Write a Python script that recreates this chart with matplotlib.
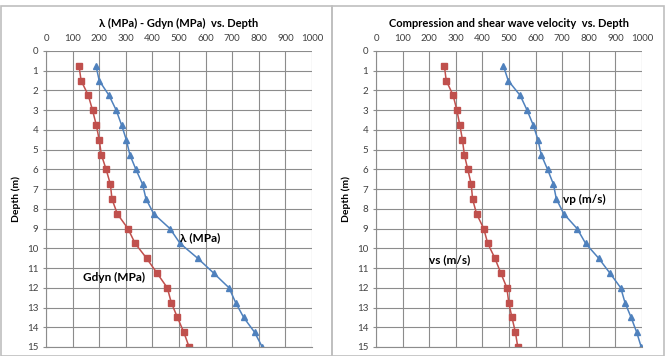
import numpy as np
import matplotlib
matplotlib.use("Agg")
import matplotlib.pyplot as plt
from matplotlib.patches import Rectangle

plt.rcParams["font.family"] = ["Lato", "DejaVu Sans"]

RED = "#C0504D"
BLUE = "#4F81BD"
GRID = "#8C8C8C"

# depth of each measurement (m)
depth = [0.75, 1.5, 2.25, 3.0, 3.75, 4.5, 5.25, 6.0, 6.75, 7.5,
         8.25, 9.0, 9.75, 10.5, 11.25, 12.0, 12.75, 13.5, 14.25, 15.0]

# left panel
lam = [188, 200, 237, 264, 284, 302, 315, 338, 363, 376,
       405, 466, 504, 570, 630, 688, 713, 743, 784, 813]
gdyn = [124, 132, 159, 175, 189, 200, 208, 226, 242, 248,
        268, 308, 335, 378, 417, 456, 471, 494, 518, 538]

# right panel
vp = [479, 497, 542, 568, 591, 609, 621, 645, 667, 678,
      706, 756, 788, 837, 879, 920, 936, 959, 980, 997]
vs = [257, 264, 290, 304, 315, 325, 332, 345, 358, 363,
      378, 405, 420, 447, 469, 492, 499, 511, 524, 533]

W, H = 665, 356
fig = plt.figure(figsize=(W / 100, H / 100), dpi=100)

# panel frames
for x0, x1 in [(1, 332), (332, 664)]:
    fig.patches.append(Rectangle((x0 / W, 0), (x1 - x0) / W, (H - 6) / H,
                                 transform=fig.transFigure, fill=False,
                                 edgecolor="#BFBFBF", linewidth=1.2))


def panel(left_px, title, s1, s2, lab1, lab2):
    ax = fig.add_axes([left_px / W, (H - 347) / H, 266 / W, 296 / H])
    ax.plot(s1, depth, color=BLUE, marker="^", markersize=4.5, linewidth=1.1)
    ax.plot(s2, depth, color=RED, marker="s", markersize=4.5, linewidth=1.1)
    ax.set_xlim(0, 1000)
    ax.set_ylim(15, 0)
    ax.set_xticks(np.arange(0, 1001, 100))
    ax.set_yticks(np.arange(0, 16, 1))
    ax.xaxis.tick_top()
    ax.grid(True, color=GRID, linewidth=0.8)
    for s in ax.spines.values():
        s.set_color(GRID)
    ax.spines["top"].set_visible(False)
    ax.spines["right"].set_visible(False)
    ax.tick_params(axis="both", labelsize=7, colors="#404040",
                   length=0, pad=3)
    ax.tick_params(axis="y", direction="inout", length=5, color=GRID)
    ax.tick_params(axis="x", pad=6)
    ax.set_ylabel("Depth (m)", fontsize=7.5, fontweight="bold")
    ax.set_title(title, fontsize=8, fontweight="bold", pad=17)
    for txt, xy in [lab1, lab2]:
        ax.text(xy[0], xy[1], txt, fontsize=8.5, fontweight="bold",
                ha="left", va="center")
    return ax


panel(46, "\u03bb (MPa) - Gdyn (MPa)  vs. Depth", lam, gdyn,
      ("\u03bb (MPa)", (505, 9.45)), ("Gdyn (MPa)", (140, 11.5)))
panel(376, "Compression and shear wave velocity  vs. Depth", vp, vs,
      ("vp (m/s)", (703, 7.5)), ("vs (m/s)", (200, 10.6)))

fig.savefig("out.png", dpi=100)
